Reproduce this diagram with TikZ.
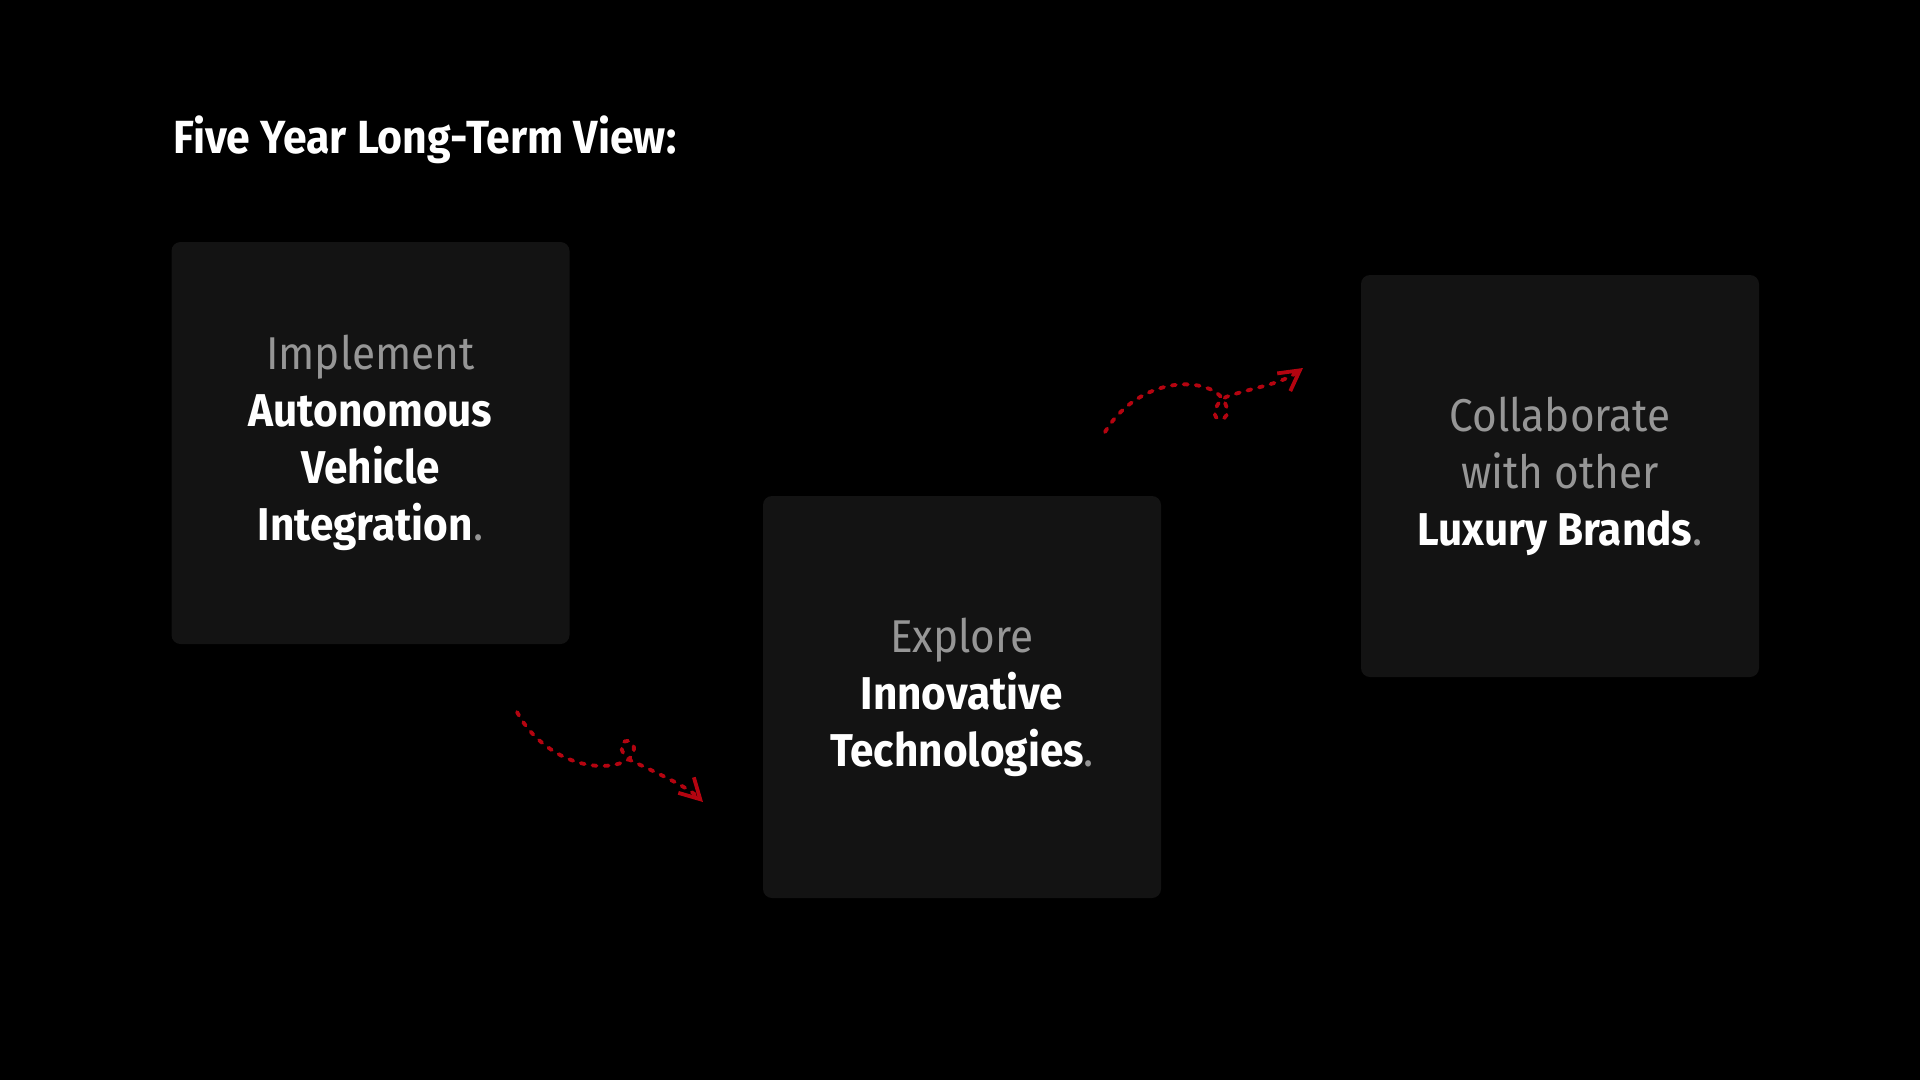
\documentclass[tikz,border=0pt]{standalone}
\usepackage{fontspec}
\setmainfont{Fira Sans}[FakeStretch = 0.92]
\usetikzlibrary{arrows.meta}
\definecolor{panelgray}{RGB}{19,19,19}
\definecolor{softgray}{RGB}{150,150,150}
\definecolor{arrowred}{RGB}{180,4,16}
\newcommand{\greytext}[1]{{\mdseries\color{softgray}#1}}
\newcommand{\whitetext}[1]{{\bfseries\color{white}#1}}
\begin{document}
\begin{tikzpicture}[x = 1pt, y = -1pt]
        \fill[black] (0,0) rectangle (1920,1080);
        \useasboundingbox (0,0) rectangle (1920,1080);
        \tikzset{
            panel/.style = {fill = panelgray, rounded corners = 9pt, minimum width = 398pt,
                minimum height = 402pt, align = center, font = \fontsize{46}{57}\selectfont},
            squiggle/.style = {draw = arrowred, line width = 3.8pt, line cap = round,
                dash pattern = on 4pt off 8pt, -{Straight Barb[length = 20pt, width = 22pt]}}
        }
        \node[anchor = base west, text = white, font = \bfseries\fontsize{46.5}{58}\selectfont]
            (title) at (170,153) {Five Year Long-Term View:};
        \node[panel] (implement) at (370.5,443) {\greytext{Implement}\\ \whitetext{Autonomous}\\
            \whitetext{Vehicle}\\ \whitetext{Integration}\greytext{.}};
        \node[panel] (explore) at (962,697) {\greytext{Explore}\\ \whitetext{Innovative}\\
            \whitetext{Technologies}\greytext{.}};
        \node[panel] (collaborate) at (1560,476) {\greytext{Collaborate}\\ \greytext{with other}\\
            \whitetext{Luxury Brands}\greytext{.}};
        \coordinate (firststart) at (517,712);
        \coordinate (firstend) at (703,802);
        \coordinate (secondstart) at (1105,432);
        \coordinate (secondend) at (1303,368);
        \draw[squiggle] (firststart) .. controls (540,755) and (590,775) .. (624,762)
            .. controls (636,757) and (637,743) .. (628,741)
            .. controls (620,740) and (618,752) .. (630,760)
            .. controls (655,772) and (688,787) .. (firstend);
        \draw[squiggle] (secondstart) .. controls (1130,390) and (1180,375) .. (1212,390)
            .. controls (1228,398) and (1232,418) .. (1221,419)
            .. controls (1212,420) and (1212,405) .. (1226,397)
            .. controls (1250,388) and (1280,385) .. (secondend);
\end{tikzpicture}
\end{document}
